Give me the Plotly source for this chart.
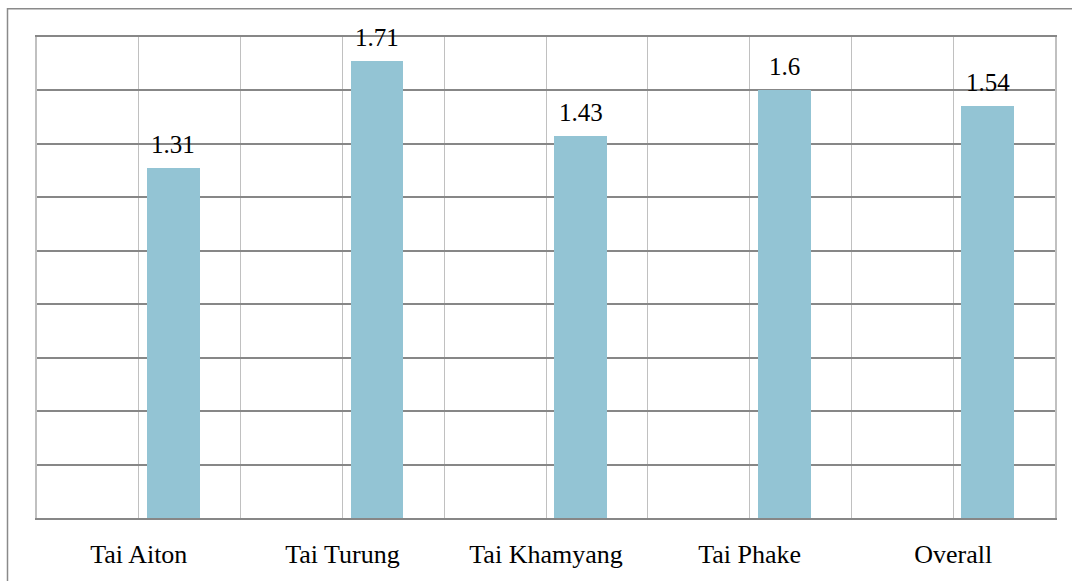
import plotly.graph_objects as go

# Mean scores per group
categories = ["Tai Aiton", "Tai Turung", "Tai Khamyang", "Tai Phake", "Overall"]
values = [1.31, 1.71, 1.43, 1.6, 1.54]

positions = list(range(len(categories)))
bar_offset = 0.04
bar_width = 0.26
bar_centers = [p + bar_offset + bar_width / 2 for p in positions]

dark_grid = "#878787"
light_grid = "#c0c0c0"
serif = "Liberation Serif"

fig = go.Figure()
fig.add_trace(go.Bar(
    x=positions,
    y=values,
    offset=bar_offset,
    width=bar_width,
    marker=dict(color="#93c4d4", line=dict(width=0)),
    hoverinfo="skip",
))

# Value labels above each bar
for xc, v in zip(bar_centers, values):
    fig.add_annotation(
        x=xc, y=v, text=f"{v:g}", showarrow=False,
        yanchor="bottom", yshift=8,
        font=dict(family=serif, size=25, color="black"),
    )

# Outer chart frame
fig.add_shape(
    type="rect", xref="paper", yref="paper",
    x0=-29.5 / 1018, x1=1090 / 1018, y0=-80 / 484, y1=(484 + 28.5) / 484,
    line=dict(color="#8a8a8a", width=1.5), fillcolor="rgba(0,0,0,0)",
    layer="below",
)

fig.update_layout(
    width=1072, height=581,
    margin=dict(l=37, r=17, t=37, b=60),
    plot_bgcolor="white", paper_bgcolor="white",
    showlegend=False,
    bargap=0,
    font=dict(family=serif, size=26, color="black"),
    xaxis=dict(
        range=[-0.5, len(categories) - 0.5],
        tickmode="array", tickvals=positions, ticktext=categories,
        showgrid=True, gridcolor=light_grid, gridwidth=1,
        minor=dict(tickmode="array",
                   tickvals=[p - 0.5 for p in positions] + [len(categories) - 0.5],
                   showgrid=True, gridcolor=light_grid, gridwidth=1),
        showline=True, linecolor=dark_grid, linewidth=1.5, mirror=True,
        ticks="", zeroline=False,
        ticklabelstandoff=12,
        tickfont=dict(family=serif, size=26, color="black"),
    ),
    yaxis=dict(
        range=[0, 1.8], dtick=0.2, tick0=0,
        showgrid=True, gridcolor=dark_grid, gridwidth=1.5,
        showline=True, linecolor=light_grid, linewidth=1.5, mirror=True,
        showticklabels=False, ticks="", zeroline=False,
    ),
)

fig.write_html("out.html")
